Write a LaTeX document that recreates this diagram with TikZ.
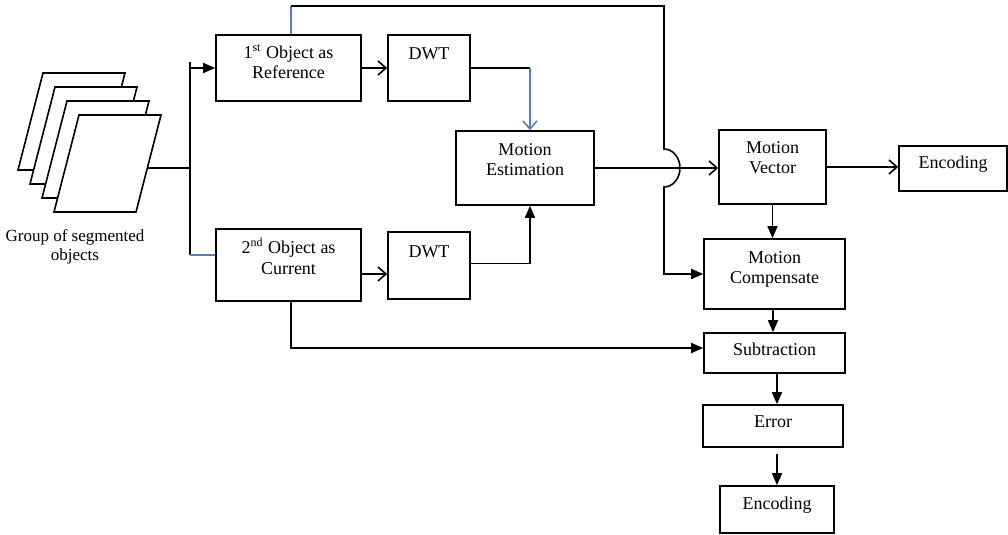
\documentclass[tikz,border=0pt]{standalone}
\usepackage{fontspec}
\setmainfont{Liberation Serif}
\usetikzlibrary{arrows.meta,positioning}
\definecolor{linkblue}{RGB}{79,129,189}

\begin{document}
\begin{tikzpicture}[
		x=0.5pt, y=-0.5pt,
		font=\fontsize{9}{10}\selectfont,
		every path/.style={thick},
		block/.style={draw, thick, fill=white, inner sep=0pt, align=center},
		toparrow/.style={-{Straight Barb[length=4pt, width=7pt]}},
		fillarrow/.style={-{Triangle[length=6pt, width=5pt]}},
		sheet/.style={draw, thick, fill=white},
	]
		\useasboundingbox (0,0) rectangle (1008,535);
		\foreach \i in {0,...,3}
			\draw[sheet] (43+12*\i,73+14*\i) -- ++(82,0) -- ++(-25,97) -- ++(-82,0) -- cycle;
		\coordinate (grp) at (147,168);
		\node (grplbl) [align=center, font=\fontsize{8.5}{9.5}\selectfont] at (75,247) {Group of segmented\\objects};
		\node (ref) [block, minimum width=72.5pt, text height=22pt, text depth=11pt] at (288.5,68) {1\textsuperscript{st} Object as\\Reference};
		\node (dwta) [block, minimum width=41pt, text height=12.5pt, text depth=20.5pt] at (429,68) {DWT};
		\node (me) [block, minimum width=69pt, text height=22.5pt, text depth=14.5pt] at (525,168) {Motion\\Estimation};
		\node (cur) [block, minimum width=72.5pt, text height=22.5pt, text depth=13.5pt] at (288.5,265) {2\textsuperscript{nd} Object as\\Current};
		\node (dwtb) [block, minimum width=41pt, text height=12.5pt, text depth=21pt] at (429,265.5) {DWT};
		\node (mv) [block, minimum width=53.5pt, text height=22pt, text depth=15pt] at (772.5,167) {Motion\\Vector};
		\node (enca) [block, minimum width=54pt, text height=11.5pt, text depth=11pt] at (953,168.5) {Encoding};
		\node (mc) [block, minimum width=70.5pt, text height=22.5pt, text depth=12.5pt] at (774.5,274) {Motion\\Compensate};
		\node (sub) [block, minimum width=70.5pt, text height=11pt, text depth=9pt] at (774.5,353) {Subtraction};
		\node (err) [block, minimum width=70pt, text height=11pt, text depth=10pt] at (773,426) {Error};
		\node (encb) [block, minimum width=57pt, text height=11.5pt, text depth=12pt] at (777,509.5) {Encoding};
		\coordinate (trtop) at (190,62);
		\coordinate (trbot) at (190,255);
		\coordinate (bend) at (664,6);
		\draw (grp) -- (grp -| trtop);
		\draw (trtop) -- (trbot);
		\draw[linkblue] (trbot) -- (trbot -| cur.west);
		\draw[fillarrow] (trtop |- ref.west) -- (ref.west);
		\draw[toparrow] (ref) -- (dwta);
		\draw[linkblue] ([xshift=1.25pt]ref.north) -- ([xshift=1.25pt]ref.north |- bend);
		\draw[fillarrow] ([xshift=1.25pt]ref.north |- bend) -- (bend) -- ([yshift=9.5pt]bend |- me.east)
			arc[start angle=90, end angle=-90, x radius=8pt, y radius=9.5pt] -- (bend |- mc.west) -- (mc.west);
		\draw (dwta.east) -- ([xshift=2.5pt]me.north |- dwta.east);
		\draw[linkblue, toparrow] ([xshift=2.5pt]me.north |- dwta.east) -- ([xshift=2.5pt]me.north);
		\draw[toparrow] ([yshift=-4.5pt]cur.east) -- ([yshift=-4.5pt]cur.east -| dwtb.west);
		\draw[fillarrow] ([yshift=1pt]dwtb.east) -| ([xshift=2.5pt]me.south);
		\draw[toparrow] (me.east) -- (me.east -| mv.west);
		\draw[toparrow] (mv.east) -- (mv.east -| enca.west);
		\draw[fillarrow] (mv.south) -- (mv.south |- mc.north);
		\draw[fillarrow] ([xshift=-0.75pt]mc.south) -- ([xshift=-0.75pt]sub.north);
		\draw[fillarrow] ([xshift=1.25pt]cur.south) |- ([yshift=2.5pt]sub.west);
		\draw[fillarrow] ([xshift=1.25pt]sub.south) -- ([xshift=1.25pt]sub.south |- err.north);
		\draw[fillarrow] ([yshift=-3pt]err.south -| encb.north) -- (encb.north);
	\end{tikzpicture}
\end{document}
